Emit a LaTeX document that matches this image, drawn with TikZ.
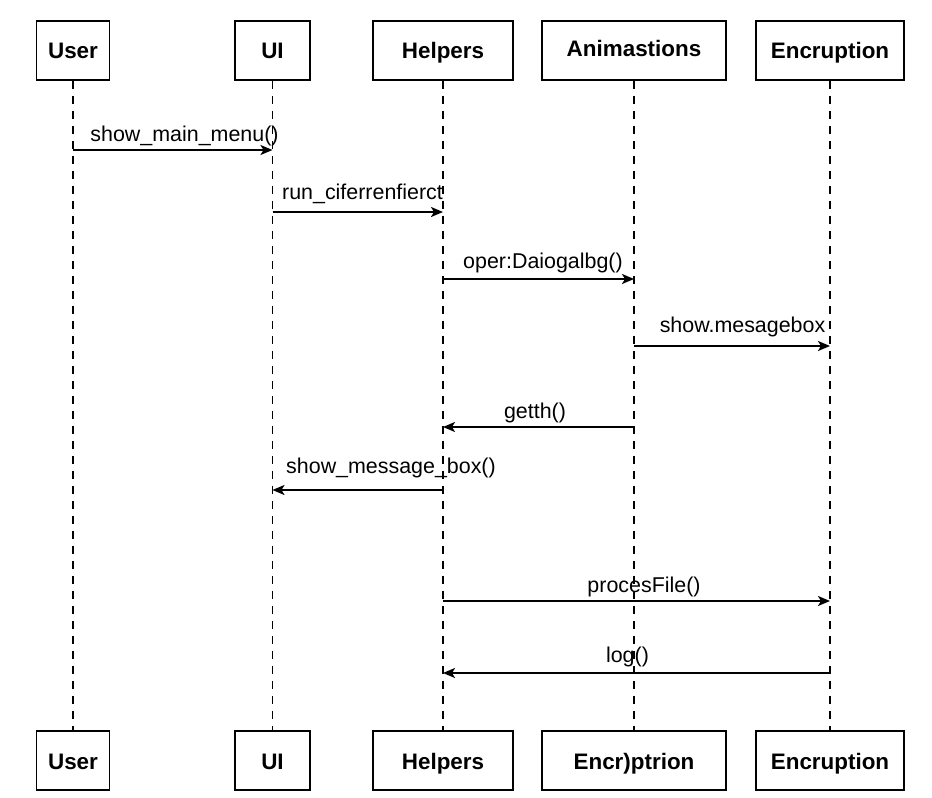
\documentclass[tikz,border=0pt]{standalone}
\usepackage{fontspec}
\setmainfont{Liberation Sans}
\usetikzlibrary{arrows.meta}
\begin{document}
\begin{tikzpicture}[x=1bp,y=-1bp,
  actor/.style={draw,line width=1.7bp,minimum height=59bp,inner sep=0pt,text height=17bp,text depth=0bp,font=\fontsize{22.5}{24}\selectfont\bfseries},
  life/.style={line width=1.3bp,dash pattern=on 8bp off 7bp},
  msg/.style={line width=1.8bp,-{Stealth[length=12bp,width=10bp,inset=3bp]}},
  lbl/.style={anchor=base,inner sep=0pt,font=\fontsize{21.5}{23}\selectfont}]
\useasboundingbox[fill=white] (0,0) rectangle (932,798);
% top actors
\node[actor,minimum width=73bp]  (uT) at (73,50.5) {User};
\node[actor,minimum width=75bp]  (iT) at (272.5,50.5) {UI};
\node[actor,minimum width=140bp] (hT) at (443,50.5) {Helpers};
\node[actor,minimum width=184bp] (aT) at (634,50.5) {\raisebox{2.5bp}{Animastions}};
\node[actor,minimum width=148bp] (eT) at (830,50.5) {Encruption};
% bottom actors
\node[actor,minimum width=73bp]  (uB) at (73,760.5) {User};
\node[actor,minimum width=75bp]  (iB) at (272.5,760.5) {UI};
\node[actor,minimum width=140bp] (hB) at (443,760.5) {Helpers};
\node[actor,minimum width=184bp] (aB) at (634,760.5) {Encr)ptrion};
\node[actor,minimum width=148bp] (eB) at (830,760.5) {Encruption};
% lifelines
\draw[life] (uT.south) -- (uB.north);
\draw[life] (iT.south) -- (iB.north);
\draw[life] (hT.south) -- (hB.north);
\draw[life] (aT.south) -- (aB.north);
\draw[life] (eT.south) -- (eB.north);
% messages
\draw[msg] (uT |- 0,150) -- (iT |- 0,150);
\node[lbl] (l1) at (184.5,141) {show\_main\_menu()};
\draw[msg] (iT |- 0,212) -- (hT |- 0,212);
\node[lbl] (l2) at (362.5,199) {run\_ciferrenfierct};
\draw[msg] (hT |- 0,279) -- (aT |- 0,279);
\node[lbl] (l3) at (543,268) {oper:Daiogalbg()};
\draw[msg] (aT |- 0,346) -- (eT |- 0,346);
\node[lbl] (l4) at (742.5,332) {show.mesagebox};
\draw[msg] (aT |- 0,427) -- (hT |- 0,427);
\node[lbl] (l5) at (535,418) {getth()};
\draw[msg] (hT |- 0,490) -- (iT |- 0,490);
\node[lbl] (l6) at (391,473) {show\_message\_box()};
\draw[msg] (hT |- 0,601) -- (eT |- 0,601);
\node[lbl] (l7) at (644,592) {procesFile()};
\draw[msg] (eT |- 0,673) -- (hT |- 0,673);
\node[lbl] (l8) at (627.5,662) {log()};
\end{tikzpicture}
\end{document}
